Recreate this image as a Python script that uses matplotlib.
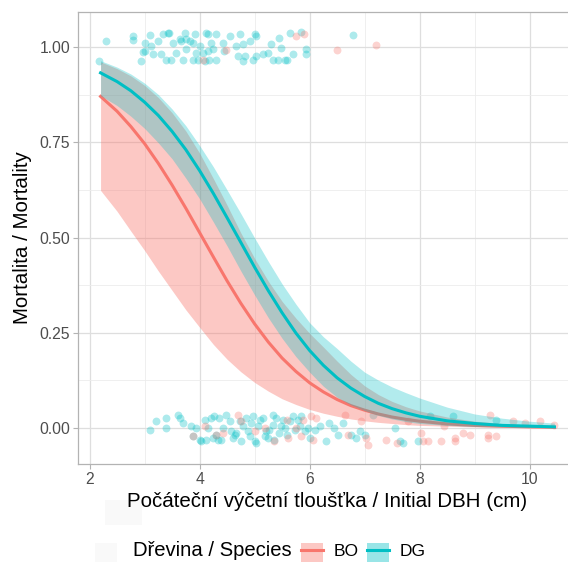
import matplotlib.pyplot as plt
from matplotlib.patches import Rectangle
from matplotlib.lines import Line2D

plt.rcParams['font.family'] = ['Liberation Sans', 'DejaVu Sans']

# barvy druhu (ggplot default)
col_bo = '#F8766D'
col_dg = '#00BFC4'

# vyhlazene krivky
dbh_grid = [2.2, 2.5, 2.75, 3.0, 3.25, 3.5, 3.75, 4.0, 4.25, 4.5, 4.75, 5.0, 5.25, 5.5, 5.75, 6.0,
            6.25, 6.5, 6.75, 7.0, 7.25, 7.5, 7.75, 8.0, 8.5, 9.0, 9.5, 10.0, 10.45]
bo_fit = [0.871, 0.832, 0.792, 0.747, 0.695, 0.638, 0.577, 0.513, 0.449, 0.386, 0.327, 0.273, 0.225, 0.183, 0.148, 0.118,
          0.094, 0.074, 0.058, 0.046, 0.036, 0.028, 0.022, 0.017, 0.010, 0.006, 0.004, 0.002, 0.001]
bo_lo = [0.624, 0.569, 0.517, 0.466, 0.412, 0.361, 0.310, 0.264, 0.219, 0.180, 0.147, 0.119, 0.096, 0.076, 0.061, 0.048,
         0.038, 0.030, 0.023, 0.018, 0.014, 0.011, 0.008, 0.006, 0.004, 0.002, 0.001, 0.001, 0.000]
bo_hi = [0.962, 0.944, 0.925, 0.900, 0.868, 0.828, 0.780, 0.722, 0.655, 0.585, 0.512, 0.445, 0.385, 0.332, 0.288, 0.248,
         0.212, 0.175, 0.140, 0.110, 0.087, 0.069, 0.055, 0.044, 0.028, 0.017, 0.011, 0.007, 0.005]
dg_fit = [0.933, 0.910, 0.886, 0.856, 0.821, 0.779, 0.731, 0.676, 0.616, 0.552, 0.487, 0.422, 0.360, 0.302, 0.249, 0.203,
          0.164, 0.131, 0.104, 0.082, 0.064, 0.050, 0.039, 0.030, 0.018, 0.011, 0.006, 0.004, 0.002]
dg_lo = [0.873, 0.847, 0.819, 0.787, 0.749, 0.707, 0.656, 0.602, 0.541, 0.478, 0.412, 0.349, 0.289, 0.235, 0.187, 0.146,
         0.109, 0.080, 0.060, 0.045, 0.032, 0.023, 0.016, 0.011, 0.006, 0.003, 0.002, 0.001, 0.001]
dg_hi = [0.965, 0.948, 0.930, 0.906, 0.876, 0.838, 0.794, 0.742, 0.686, 0.625, 0.563, 0.499, 0.437, 0.378, 0.325, 0.276,
         0.239, 0.208, 0.175, 0.146, 0.125, 0.107, 0.092, 0.078, 0.054, 0.036, 0.025, 0.017, 0.012]

# jitterovane body - DG
dg_x = [2.18, 2.29, 2.79, 2.79, 2.94, 2.97, 3.00, 3.00, 3.09, 3.12, 3.15, 3.24, 3.30, 3.33, 3.39, 3.42,
        3.45, 3.48, 3.52, 3.58, 3.64, 3.67, 3.73, 3.76, 3.76, 3.70, 3.82, 3.88, 3.88, 3.91, 3.94, 3.97,
        4.00, 4.06, 4.09, 4.12, 4.15, 4.15, 4.18, 4.21, 4.24, 4.30, 4.30, 4.42, 4.45, 4.55, 4.67, 4.70,
        4.73, 4.79, 4.79, 4.82, 4.91, 4.97, 5.00, 5.03, 5.03, 5.15, 5.24, 5.30, 5.33, 5.42, 5.45, 5.48,
        5.55, 5.58, 5.64, 5.70, 5.85, 5.94, 5.94, 6.79,
        3.09, 3.20, 3.39, 3.39, 3.61, 3.64, 3.70, 3.85, 3.88, 3.94, 4.00, 4.03, 4.09, 4.12, 4.15, 4.21,
        4.24, 4.27, 4.30, 4.33, 4.36, 4.39, 4.42, 4.48, 4.55, 4.58, 4.61, 4.64, 4.67, 4.73, 4.76, 4.79,
        4.85, 4.88, 4.91, 4.94, 4.97, 5.00, 5.03, 5.06, 5.09, 5.15, 5.18, 5.21, 5.24, 5.27, 5.33, 5.33,
        5.36, 5.39, 5.45, 5.48, 5.52, 5.55, 5.58, 5.64, 5.70, 5.73, 5.79, 5.82, 5.85, 5.91, 5.97, 6.00,
        6.09, 6.18, 6.30, 6.36, 6.45, 6.52, 6.61, 6.76, 6.85, 6.91, 7.00, 7.15, 7.55, 7.64, 7.70, 7.97,
        8.18, 8.61, 9.39]
dg_y = [0.964, 1.018, 1.030, 1.019, 0.964, 0.988, 0.990, 1.012, 1.032, 1.004, 0.982, 1.017, 0.982, 1.034, 0.968, 1.039,
        1.037, 0.968, 1.012, 0.986, 1.021, 1.017, 1.039, 1.021, 0.995, 0.968, 1.017, 1.012, 0.968, 1.034, 0.986, 0.968,
        1.004, 0.986, 0.964, 1.039, 1.034, 0.990, 0.968, 1.012, 0.995, 1.034, 0.968, 1.012, 0.990, 1.030, 1.004, 0.977,
        1.034, 1.008, 0.964, 0.977, 1.017, 0.968, 1.034, 1.030, 0.977, 0.982, 0.986, 1.008, 0.968, 0.968, 1.025, 0.999,
        0.968, 0.968, 1.039, 0.982, 1.040, 0.995, 0.982, 1.032,
        -0.005, 0.017, 0.025, -0.001, 0.034, 0.025, 0.012, 0.004, -0.023, -0.001, -0.032, -0.036, 0.021, -0.032, -0.001, 0.025,
        -0.027, 0.030, -0.018, -0.032, 0.025, -0.032, -0.001, 0.034, 0.017, -0.010, -0.027, -0.018, -0.014, 0.017, -0.036, 0.004,
        0.025, -0.010, -0.023, 0.012, 0.030, -0.036, -0.040, 0.004, 0.021, 0.025, -0.023, -0.010, -0.027, -0.005, 0.034, 0.008,
        -0.032, 0.025, -0.014, 0.004, 0.021, -0.001, -0.018, 0.017, 0.030, -0.005, 0.021, 0.004, 0.030, -0.010, -0.001, -0.027,
        -0.005, 0.004, -0.036, 0.012, -0.001, -0.018, 0.012, -0.018, -0.027, -0.010, -0.018, 0.034, -0.001, -0.036, -0.040, -0.036,
        0.030, 0.032, 0.021]

# jitterovane body - BO
bo_x = [4.06, 4.48, 5.75, 5.89, 6.50, 7.20,
        3.88, 4.09, 4.30, 4.42, 4.70, 4.76, 5.00, 5.18, 5.36, 5.58, 5.61, 5.76, 5.88, 5.85, 6.03, 6.06,
        6.12, 6.64, 6.70, 6.94, 7.03, 7.06, 7.39, 7.58, 7.79, 8.03, 8.06, 8.15, 8.39, 8.45, 8.64, 8.64,
        8.79, 8.91, 9.27, 9.24, 9.24, 9.39, 9.70, 9.91, 10.18, 10.45]
bo_y = [0.968, 0.993, 1.030, 1.034, 0.993, 1.006,
        -0.023, 0.004, -0.018, -0.014, 0.034, 0.017, -0.010, -0.001, -0.036, 0.021, -0.027, -0.001, 0.021, -0.023, 0.030, -0.032,
        0.025, 0.034, -0.018, 0.017, -0.027, -0.045, -0.032, -0.040, 0.017, -0.014, -0.036, -0.036, -0.036, 0.004, -0.027, -0.036,
        -0.014, -0.018, 0.034, -0.018, -0.027, -0.023, 0.017, 0.012, 0.017, 0.008]

fig = plt.figure(figsize=(5.68, 5.62), dpi=100)
ax = fig.add_axes([78 / 568, 98 / 562, 499 / 568, 452 / 562])

ax.scatter(dg_x, dg_y, s=32, color=col_dg, alpha=0.32, linewidths=0, zorder=2)
ax.scatter(bo_x, bo_y, s=32, color=col_bo, alpha=0.32, linewidths=0, zorder=2)

ax.fill_between(dbh_grid, bo_lo, bo_hi, color=col_bo, alpha=0.4, linewidth=0, zorder=3)
ax.plot(dbh_grid, bo_fit, color=col_bo, lw=2.2, zorder=4)
ax.fill_between(dbh_grid, dg_lo, dg_hi, color=col_dg, alpha=0.3, linewidth=0, zorder=5)
ax.plot(dbh_grid, dg_fit, color=col_dg, lw=2.2, zorder=6)

ax.set_xlim(1.79, 10.86)
ax.set_ylim(-0.0955, 1.093)
ax.set_xticks([2, 4, 6, 8, 10])
ax.set_xticks([3, 5, 7, 9], minor=True)
ax.set_yticks([0, 0.25, 0.5, 0.75, 1.0])
ax.set_yticklabels(['0.00', '0.25', '0.50', '0.75', '1.00'])
ax.set_yticks([0.125, 0.375, 0.625, 0.875], minor=True)
ax.grid(True, which='major', color='#dedede', lw=0.9, zorder=0)
ax.grid(True, which='minor', color='#ececec', lw=0.6, zorder=0)
ax.set_axisbelow(True)
for s in ax.spines.values():
    s.set_color('#b3b3b3')
    s.set_linewidth(0.9)
ax.tick_params(which='major', length=3.6, color='#b3b3b3', labelcolor='#4d4d4d', labelsize=11.3, pad=2)
ax.tick_params(which='minor', length=0)

ax.set_xlabel('Počáteční výčetní tloušťka / Initial DBH (cm)', fontsize=14.8, labelpad=4)
ax.set_ylabel('Mortalita / Mortality', fontsize=14.8, labelpad=5)

# slabe sede obdelniky (artefakty v originale)
fig.add_artist(Rectangle((105 / 568, 37 / 562), 37 / 568, 25 / 562, transform=fig.transFigure,
                         color='#f9f9f9', lw=0, zorder=0))
fig.add_artist(Rectangle((95 / 568, 0), 22 / 568, 19 / 562, transform=fig.transFigure,
                         color='#f9f9f9', lw=0, zorder=0))

# legenda
ly = 12 / 562
fig.text(133 / 568, ly, 'Dřevina / Species', fontsize=14.6, va='center', ha='left')
for x0, c, lab in [(301, col_bo, 'BO'), (367, col_dg, 'DG')]:
    fig.add_artist(Rectangle((x0 / 568, 0 / 562), 22 / 568, 19 / 562, transform=fig.transFigure,
                             facecolor=c, alpha=0.4, lw=0))
    fig.add_artist(Line2D([x0 / 568, (x0 + 22) / 568], [ly, ly], transform=fig.transFigure,
                          color=c, lw=2.2))
    fig.text((x0 + 33) / 568, ly - 2 / 562, lab, fontsize=12.5, va='center', ha='left')

fig.savefig('out.png', dpi=100)
